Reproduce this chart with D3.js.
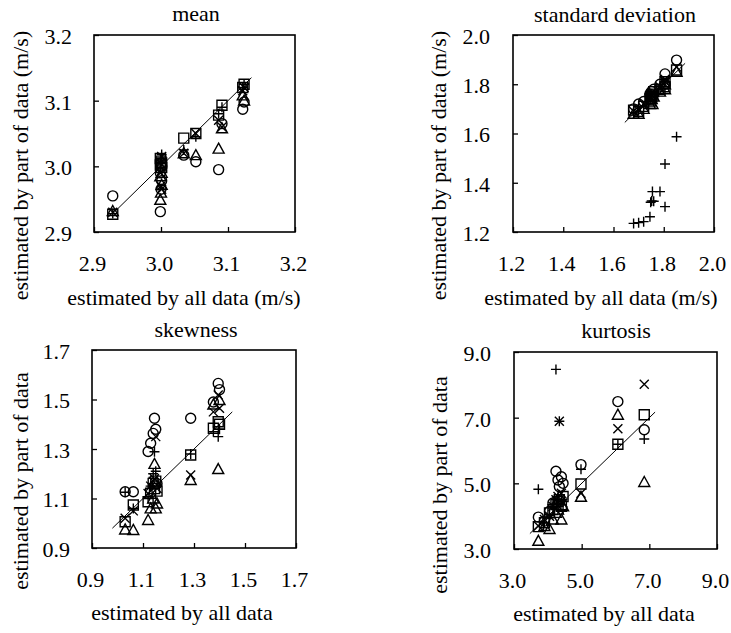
<!DOCTYPE html>
<html><head><meta charset="utf-8">
<script src="https://cdn.jsdelivr.net/npm/d3@7"></script>
<style>body{margin:0;background:#fff}svg{display:block}</style>
</head><body><svg id="c" width="731" height="633"></svg>
<script>
// ---------- DATA ----------
// mean (m/s)
const meanX        = [2.928, 2.999, 3.000, 3.001, 2.999, 3.001, 3.034, 3.052, 3.086, 3.091, 3.122, 3.124];
const meanCircle   = [2.955, 2.931, 2.965, 2.978, 2.990, 3.000, 3.017, 3.007, 2.995, 3.065, 3.087, 3.098];
const meanSquare   = [2.927, 3.002, 3.008, 2.998, 3.012, 3.005, 3.043, 3.050, 3.078, 3.093, 3.120, 3.125];
const meanTriangle = [2.932, 2.949, 2.960, 2.972, 2.985, 2.990, 3.020, 3.017, 3.027, 3.058, 3.108, 3.100];
const meanCross    = [2.930, 2.990, 2.970, 2.965, 3.005, 3.015, 3.020, 3.050, 3.070, 3.060, 3.115, 3.120];
const meanPlus     = [2.928, 3.005, 3.012, 3.018, 2.998, 3.008, 3.025, 3.045, 3.080, 3.090, 3.120, 3.125];
const meanFit      = [2.93, 3.135];
const meanTicks    = [2.9, 3.0, 3.1, 3.2];

// standard deviation (m/s)
const sdX        = [1.700, 1.720, 1.745, 1.748, 1.752, 1.755, 1.785, 1.805, 1.805, 1.851, 1.680, 1.760];
const sdCircle   = [1.720, 1.730, 1.760, 1.740, 1.770, 1.750, 1.800, 1.842, 1.800, 1.898, 1.700, 1.780];
const sdSquare   = [1.690, 1.710, 1.740, 1.750, 1.750, 1.760, 1.780, 1.810, 1.790, 1.858, 1.695, 1.770];
const sdTriangle = [1.680, 1.700, 1.720, 1.730, 1.740, 1.720, 1.770, 1.800, 1.780, 1.851, 1.680, 1.750];
const sdCross    = [1.700, 1.720, 1.750, 1.760, 1.740, 1.770, 1.790, 1.820, 1.810, 1.870, 1.690, 1.760];
const sdPlus     = [1.238, 1.242, 1.262, 1.321, 1.326, 1.364, 1.364, 1.303, 1.476, 1.587, 1.235, 1.325];
const sdFit      = [1.645, 1.885];
const sdTicks    = [1.2, 1.4, 1.6, 1.8, 2.0];

// skewness
const skX        = [1.030, 1.062, 1.120, 1.130, 1.140, 1.145, 1.150, 1.155, 1.287, 1.376, 1.395, 1.400];
const skCircle   = [1.127, 1.127, 1.290, 1.323, 1.363, 1.424, 1.380, 1.160, 1.424, 1.490, 1.565, 1.540];
const skSquare   = [1.006, 1.074, 1.087, 1.121, 1.161, 1.140, 1.170, 1.130, 1.276, 1.384, 1.410, 1.400];
const skTriangle = [0.975, 0.973, 1.013, 1.060, 1.100, 1.240, 1.060, 1.080, 1.175, 1.480, 1.219, 1.498];
const skCross    = [1.020, 1.050, 1.120, 1.150, 1.170, 1.180, 1.350, 1.140, 1.195, 1.450, 1.518, 1.465];
const skPlus     = [1.125, 1.060, 1.100, 1.150, 1.200, 1.289, 1.210, 1.170, 1.280, 1.370, 1.350, 1.380];
const skFit      = [0.98, 1.45];
const skTicks    = [0.9, 1.1, 1.3, 1.5, 1.7];

// kurtosis
const kuX        = [3.72, 3.90, 4.05, 4.15, 4.24, 4.30, 4.34, 4.40, 4.45, 4.98, 6.07, 6.85];
const kuCircle   = [3.97, 3.85, 4.15, 4.40, 5.37, 5.10, 4.90, 5.20, 5.00, 5.57, 7.49, 6.63];
const kuSquare   = [3.68, 3.80, 4.10, 4.20, 4.35, 4.45, 4.50, 4.30, 4.60, 4.98, 6.19, 7.09];
const kuTriangle = [3.25, 3.70, 3.61, 3.90, 4.10, 4.20, 4.60, 3.90, 4.30, 4.59, 7.09, 5.04];
const kuCross    = [3.70, 3.90, 4.00, 4.30, 4.50, 4.60, 6.89, 4.70, 4.40, 4.70, 6.66, 8.02];
const kuPlus     = [4.82, 3.80, 4.05, 4.25, 8.47, 4.40, 6.89, 4.50, 4.20, 5.43, 6.19, 6.35];
const kuFit      = [3.47, 7.17];
const kuTicks    = [3.0, 5.0, 7.0, 9.0];

const titles  = ["mean", "standard deviation", "skewness", "kurtosis"];
const xTitles = ["estimated by all data (m/s)", "estimated by all data (m/s)", "estimated by all data", "estimated by all data"];
const yTitles = ["estimated by part of data (m/s)", "estimated by part of data (m/s)", "estimated by part of data", "estimated by part of data"];

// ---------- LAYOUT ----------
const layout = [
  {L:94,  R:295, T:35,  B:232, tx:196, ty:21,  xtx:184, xty:305, ytx:28,  yty:165.5, ylr:72},
  {L:513, R:714, T:35,  B:232, tx:615, ty:22,  xtx:601, xty:305, ytx:446, yty:165.5, ylr:490},
  {L:92,  R:296, T:350, B:548, tx:196, ty:337, xtx:182, xty:620, ytx:28,  yty:481,   ylr:70},
  {L:514, R:717, T:352, B:549, tx:616, ty:338, xtx:604, xty:621, ytx:447, yty:485,   ylr:491}
];

const panels = [
  {x:meanX, s:[meanCircle, meanSquare, meanTriangle, meanCross, meanPlus], fit:meanFit, ticks:meanTicks},
  {x:sdX,   s:[sdCircle, sdSquare, sdTriangle, sdCross, sdPlus],           fit:sdFit,   ticks:sdTicks},
  {x:skX,   s:[skCircle, skSquare, skTriangle, skCross, skPlus],           fit:skFit,   ticks:skTicks},
  {x:kuX,   s:[kuCircle, kuSquare, kuTriangle, kuCross, kuPlus],           fit:kuFit,   ticks:kuTicks}
];

const shapes = [
  "M5,0A5,5 0 1,1 -5,0A5,5 0 1,1 5,0Z",
  "M-5,-5H5V5H-5Z",
  "M0,-5.5L5.5,4.5H-5.5Z",
  "M-4.5,-4.5L4.5,4.5M-4.5,4.5L4.5,-4.5",
  "M-5,0H5M0,-5V5"
];

const svg = d3.select("#c");
const FS = 22;
const FF = '"Liberation Serif"';

panels.forEach((p, i) => {
  const l = layout[i];
  const dom = [p.ticks[0], p.ticks[p.ticks.length - 1]];
  const x = d3.scaleLinear().domain(dom).range([l.L, l.R]);
  const y = d3.scaleLinear().domain(dom).range([l.B, l.T]);
  const g = svg.append("g");

  const ax = g.append("g").attr("transform", `translate(0,${l.B})`)
    .call(d3.axisBottom(x).tickValues(p.ticks).tickFormat(d3.format(".1f"))
      .tickSizeInner(-5).tickSizeOuter(0).tickPadding(23));
  const ay = g.append("g").attr("transform", `translate(${l.L},0)`)
    .call(d3.axisLeft(y).tickValues(p.ticks).tickFormat(d3.format(".1f"))
      .tickSizeInner(-5).tickSizeOuter(0).tickPadding(l.L - l.ylr));
  [ax, ay].forEach(a => {
    a.attr("font-family", null).attr("font-size", null);
    a.select(".domain").remove();
    a.selectAll("line").attr("stroke", "#000").attr("stroke-width", 1.3);
    a.selectAll("text").style("font-family", FF).style("font-size", FS + "px").attr("fill", "#000");
  });
  ax.selectAll("text").attr("dx", -2);
  ay.selectAll("text").attr("dy", "0.38em");

  g.append("rect").attr("x", l.L).attr("y", l.T).attr("width", l.R - l.L).attr("height", l.B - l.T)
    .attr("fill", "none").attr("stroke", "#000").attr("stroke-width", 1.6);

  g.append("line").attr("x1", x(p.fit[0])).attr("y1", y(p.fit[0]))
    .attr("x2", x(p.fit[1])).attr("y2", y(p.fit[1]))
    .attr("stroke", "#000").attr("stroke-width", 1);

  p.s.forEach((vals, k) => {
    g.append("g").selectAll("path").data(vals).join("path")
      .attr("d", shapes[k])
      .attr("transform", (v, j) => `translate(${x(p.x[j])},${y(v)})`)
      .attr("fill", "none").attr("stroke", "#000").attr("stroke-width", 1.4);
  });

  const t = (xx, yy, s) => g.append("text").attr("x", xx).attr("y", yy).attr("text-anchor", "middle")
    .style("font-family", FF).style("font-size", FS + "px").attr("fill", "#000").text(s);
  t(l.tx, l.ty, titles[i]);
  t(l.xtx, l.xty, xTitles[i]);
  g.append("text").attr("transform", `translate(${l.ytx},${l.yty}) rotate(-90)`)
    .attr("text-anchor", "middle").style("font-family", FF).style("font-size", FS + "px")
    .attr("fill", "#000").text(yTitles[i]);
});
</script></body></html>
